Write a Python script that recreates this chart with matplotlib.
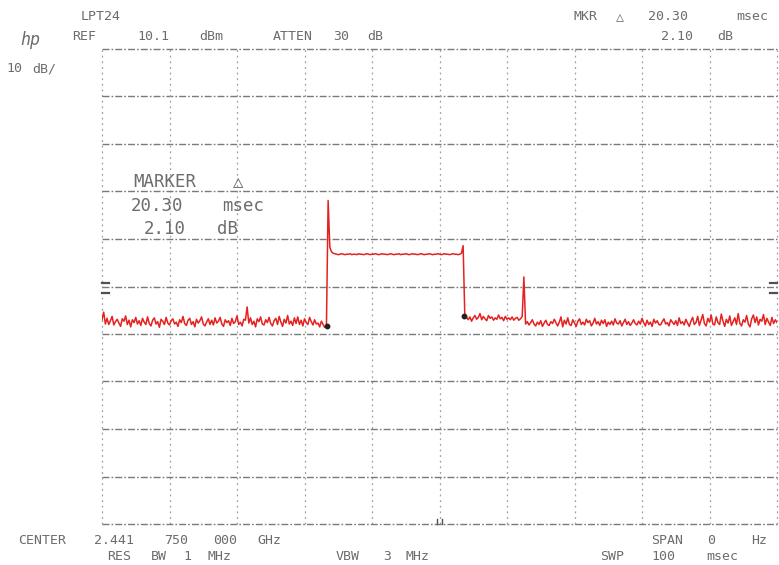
import numpy as np
import matplotlib
matplotlib.use("Agg")
import matplotlib.pyplot as plt

# ---- instrument settings -------------------------------------------------
ref_level_dbm = 10.1
db_per_div = 10
sweep_ms = 100
n_points = 401

# ---- measured trace (dBm), one value per sweep point ---------------------
floor_before = [
    -46.9, -45.3, -47.8, -46.6, -47.9, -47.1, -46.2, -48.0, -47.3, -46.8,
    -47.6, -48.3, -46.7, -47.2, -46.1, -47.9, -47.0, -48.4, -46.9, -47.5,
    -46.4, -47.8, -47.1, -48.1, -46.6, -47.4, -47.9, -46.3, -47.7, -48.2,
    -47.0, -46.5, -47.8, -47.3, -48.5, -46.8, -47.2, -47.9, -46.4, -47.6,
    -48.0, -47.1, -46.7, -47.8, -47.4, -48.3, -46.9, -47.5, -46.2, -47.7,
    -48.1, -47.0, -46.6, -47.9, -47.3, -48.4, -46.8, -47.6, -47.1, -46.3,
    -47.8, -48.2, -47.4, -46.7, -47.9, -47.0, -48.0, -46.5, -47.6, -47.2,
    -46.4, -47.8, -48.3, -46.9, -47.5, -47.1, -48.1, -46.6, -47.7, -47.3,
    -46.1, -47.9, -47.4, -48.2, -46.8, -47.0, -44.2, -47.6, -46.5, -47.9,
    -47.2, -48.4, -46.7, -47.3, -46.3, -47.8, -48.0, -46.9, -47.5, -46.4,
    -47.7, -48.2, -47.1, -46.6, -47.9, -46.2, -47.4, -48.3, -46.8, -47.6,
    -46.0, -47.8, -47.2, -48.1, -46.5, -47.7, -46.3, -47.9, -47.0, -48.2,
    -46.7, -47.5, -47.9, -46.4, -47.3, -48.0, -46.9, -47.8, -47.6, -48.4,
    -47.2, -47.9, -48.5, -48.2,
]
rise_peak = -21.8
plateau = [
    -31.6, -32.6, -32.9, -33.0, -33.1, -33.2, -33.1, -33.0, -33.1, -33.2,
    -33.1, -33.1, -33.0, -33.2, -33.1, -33.1, -33.2, -33.0, -33.1, -33.1,
    -33.2, -33.1, -33.0, -33.1, -33.2, -33.1, -33.1, -33.0, -33.1, -33.2,
    -33.1, -33.0, -33.1, -33.1, -33.2, -33.1, -33.0, -33.1, -33.2, -33.1,
    -33.1, -33.0, -33.2, -33.1, -33.1, -33.0, -33.1, -33.2, -33.1, -33.0,
    -33.1, -33.1, -33.2, -33.1, -33.0, -33.1, -33.2, -33.1, -33.1, -33.0,
    -33.1, -33.2, -33.1, -33.1, -33.0, -33.1, -33.2, -33.1, -33.0, -33.1,
    -33.1, -33.2, -33.1, -33.0, -33.1, -33.1, -33.2, -33.1, -32.9,
]
fall_peak = -31.3
floor_after = [
    -46.1, -46.4, -46.9, -46.3, -47.2, -46.5, -46.0, -46.8, -46.4, -45.6,
    -46.9, -46.2, -46.7, -47.1, -46.0, -46.6, -46.3, -47.0, -46.5, -46.8,
    -45.9, -46.7, -46.4, -47.1, -46.2, -46.8, -46.5, -46.9, -46.3, -47.0,
    -46.6, -46.4, -47.0, -46.7, -46.2,
    -37.9,
    -47.8, -47.3, -48.0, -47.5, -46.9, -47.8, -48.2, -47.4, -47.9, -47.1,
    -48.3, -47.6, -47.0, -47.9, -48.1, -47.3, -47.7, -46.8, -47.5, -48.2,
    -47.4, -46.3, -48.4, -47.0, -47.8, -46.5, -47.9, -48.1, -46.9, -47.6,
    -48.3, -47.2, -46.7, -47.9, -47.4, -48.0, -46.8, -47.5, -47.1, -48.2,
    -47.6, -46.6, -47.8, -47.3, -48.1, -47.0, -47.7, -46.9, -48.3, -47.4,
    -47.9, -47.2, -48.0, -46.7, -47.6, -47.8, -47.1, -48.2, -47.5, -46.8,
    -47.9, -47.3, -48.1, -47.6, -46.9, -47.7, -48.0, -47.2, -47.8, -46.6,
    -47.5, -48.2, -47.0, -47.9, -47.4, -48.3, -46.8, -47.6, -47.1, -47.9,
    -48.0, -47.3, -46.7, -47.8, -47.5, -48.2, -46.9, -47.4, -47.9, -47.1,
    -48.1, -46.5, -47.7, -47.3, -48.0, -46.8, -47.6, -48.3, -47.2, -46.4,
    -47.9, -47.5, -46.2, -48.1, -47.0, -45.8, -47.7, -48.2, -46.6, -47.4,
    -45.9, -47.8, -48.0, -46.3, -47.5, -47.9, -45.7, -47.2, -48.3, -46.8,
    -47.6, -46.1, -48.1, -47.3, -46.5, -47.9, -45.6, -47.7, -48.2, -46.9,
    -47.4, -46.0, -47.8, -48.4, -46.7, -45.9, -47.5, -46.3, -48.0, -46.8,
    -47.2, -45.8, -47.9, -46.6, -47.4, -48.1, -46.4, -47.7, -46.9, -47.5,
]

# delta-marker pair (time in ms, level in dBm)
marker_ms = [33.40, 53.70]
marker_dbm = [-48.2, -46.1]

# ---- annotation text -----------------------------------------------------
TXT = "#6c6c6c"
MONO = ["DejaVu Sans Mono", "DejaVu Sans"]
W, H = 779, 565

fig = plt.figure(figsize=(W / 100, H / 100), dpi=100)
fig.patch.set_facecolor("white")
ax = fig.add_axes([102 / W, 1 - 524 / H, 675 / W, 475 / H])
ax.set_xlim(0, sweep_ms)
ax.set_ylim(ref_level_dbm - 10 * db_per_div, ref_level_dbm)
ax.axis("off")

# graticule: 10 x 10 divisions
for k in range(11):
    ax.axhline(ref_level_dbm - k * db_per_div, color="#7a7a7a", lw=1.0,
               ls=(0, (5, 1.5, 1.2, 1.5)), clip_on=False, zorder=1)
    ax.axvline(k * sweep_ms / 10, color="#a0a0a0", lw=0.9,
               ls=(0, (1.5, 3.0)), clip_on=False, zorder=1)

# display-line indicators at the left and right edges
for yy in (0.507, 0.486):
    ax.plot([0, 0.010], [yy, yy], transform=ax.transAxes, color="#505050",
            lw=1.6, clip_on=False)
    ax.plot([0.990, 1.0], [yy, yy], transform=ax.transAxes, color="#505050",
            lw=1.6, clip_on=False)
for xx in (0.497, 0.503):
    ax.plot([xx, xx], [0, 0.010], transform=ax.transAxes, color="#505050",
            lw=1.0, clip_on=False)

# sweep trace
t = np.linspace(0, sweep_ms, n_points)
trace = np.array(floor_before + [rise_peak] + plateau + [fall_peak] + floor_after)
ax.plot(t, trace, color="#e4221f", lw=1.1, zorder=3)
ax.plot(marker_ms, marker_dbm, "o", color="#222222", ms=3.2, zorder=4)


def put(x, y, s, size=9.5, **kw):
    fig.text(x / W, 1 - y / H, s, fontsize=size, ha="center", va="center",
             family=MONO, color=TXT, **kw)


# header
put(101, 17, "LPT24")
put(30, 40, "hp", size=12, style="italic")
put(84, 37, "REF")
put(153, 37, "10.1")
put(211, 37, "dBm")
put(293, 37, "ATTEN")
put(341, 37, "30")
put(375, 37, "dB")
put(14, 69, "10")
put(44, 69, "dB/")
put(586, 17, "MKR")
put(620, 17, "△")
put(668, 17, "20.30")
put(752, 17, "msec")
put(677, 36, "2.10")
put(725, 36, "dB")

# marker readout on the graticule
put(165, 182, "MARKER", size=12.5)
put(238, 182, "△", size=12.5)
put(157, 206, "20.30", size=12.5)
put(243, 206, "msec", size=12.5)
put(165, 229, "2.10", size=12.5)
put(228, 229, "dB", size=12.5)

# footer
put(42, 540, "CENTER")
put(114, 540, "2.441")
put(176, 540, "750")
put(225, 540, "000")
put(269, 540, "GHz")
put(667, 540, "SPAN")
put(711, 540, "0")
put(759, 540, "Hz")
put(119, 557, "RES")
put(159, 557, "BW")
put(187, 557, "1")
put(220, 557, "MHz")
put(348, 557, "VBW")
put(387, 557, "3")
put(418, 557, "MHz")
put(612, 557, "SWP")
put(663, 557, "100")
put(722, 557, "msec")

fig.savefig("out.png", dpi=100, facecolor="white")
